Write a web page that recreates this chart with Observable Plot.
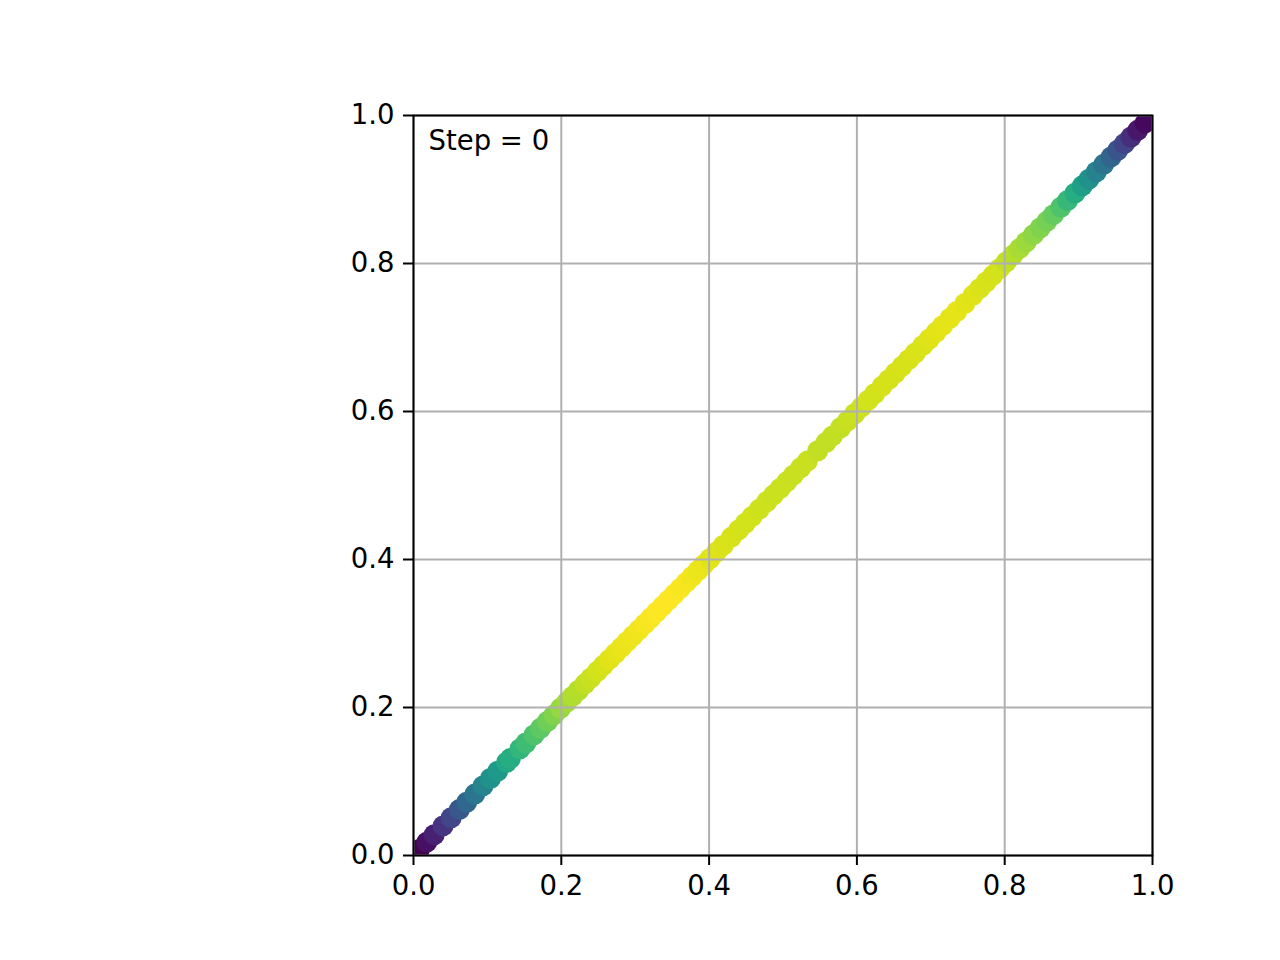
<!DOCTYPE html>
<html>
<head>
<meta charset="utf-8">
<script src="https://cdn.jsdelivr.net/npm/d3@7"></script>
<script src="https://cdn.jsdelivr.net/npm/@observablehq/plot@0.6"></script>
<style>
  html, body { margin: 0; padding: 0; background: white; }
</style>
</head>
<body>
<div id="chart"></div>
<script>
// Point positions along the diagonal (x = y)
const xs = [
  0.008, 0.018, 0.028, 0.040, 0.051, 0.062, 0.072, 0.083, 0.094,
  0.104, 0.114, 0.126, 0.131, 0.144, 0.152, 0.163, 0.172, 0.181, 0.190, 0.199,
  0.207, 0.215, 0.223, 0.232, 0.240, 0.249, 0.257, 0.265, 0.273, 0.281, 0.289, 0.297,
  0.305, 0.313, 0.321, 0.329, 0.337, 0.345, 0.353, 0.361, 0.369, 0.377, 0.385, 0.393,
  0.401, 0.410, 0.419, 0.430, 0.440, 0.449, 0.458, 0.468, 0.478, 0.487, 0.496,
  0.505, 0.514, 0.524, 0.533, 0.547, 0.558, 0.567, 0.578, 0.587, 0.597,
  0.606, 0.615, 0.624, 0.634, 0.643, 0.652, 0.661, 0.670, 0.679, 0.689, 0.698,
  0.707, 0.716, 0.726, 0.735, 0.746, 0.757, 0.766, 0.775, 0.784, 0.793,
  0.802, 0.811, 0.820, 0.829, 0.839, 0.848, 0.857, 0.866, 0.876, 0.885, 0.895,
  0.905, 0.914, 0.924, 0.934, 0.944, 0.953, 0.962, 0.971, 0.980, 0.990
];
const ys = xs.slice();
// Colour value (density, normalised 0..1) for each point
const density = [
  0.00, 0.04, 0.09, 0.15, 0.21, 0.27, 0.33, 0.39, 0.45,
  0.50, 0.54, 0.60, 0.62, 0.66, 0.69, 0.72, 0.75, 0.78, 0.81, 0.84,
  0.86, 0.88, 0.89, 0.91, 0.92, 0.93, 0.94, 0.95, 0.96, 0.965, 0.97, 0.975,
  0.98, 0.985, 0.99, 0.995, 1.00, 1.00, 0.995, 0.99, 0.985, 0.98, 0.97, 0.965,
  0.955, 0.95, 0.945, 0.94, 0.935, 0.93, 0.93, 0.925, 0.925, 0.92, 0.92,
  0.92, 0.915, 0.915, 0.915, 0.91, 0.91, 0.91, 0.91, 0.915, 0.92,
  0.925, 0.93, 0.93, 0.935, 0.935, 0.935, 0.94, 0.94, 0.945, 0.945, 0.95,
  0.955, 0.96, 0.96, 0.96, 0.955, 0.95, 0.945, 0.94, 0.935, 0.93,
  0.91, 0.89, 0.87, 0.85, 0.83, 0.81, 0.79, 0.76, 0.72, 0.67, 0.62,
  0.56, 0.50, 0.44, 0.38, 0.32, 0.26, 0.20, 0.13, 0.06, 0.02
];
const tickValues = [0, 0.2, 0.4, 0.6, 0.8, 1.0];
const annotation = ["Step = 0"];

const points = xs.map((x, i) => ({x, y: ys[i], c: density[i]}));

const chart = Plot.plot({
  width: 1280,
  height: 960,
  marginLeft: 413,
  marginRight: 128,
  marginTop: 115,
  marginBottom: 105,
  style: {fontFamily: "DejaVu Sans", fontSize: "27.5px", background: "white", color: "black"},
  x: {domain: [0, 1]},
  y: {domain: [0, 1]},
  color: {type: "linear", scheme: "viridis", domain: [0, 1]},
  marks: [
    Plot.dot(points, {x: "x", y: "y", fill: "c", r: 10.5, stroke: null, clip: "frame"}),
    Plot.gridX(tickValues, {stroke: "#b0b0b0", strokeOpacity: 1, strokeWidth: 2}),
    Plot.gridY(tickValues, {stroke: "#b0b0b0", strokeOpacity: 1, strokeWidth: 2}),
    Plot.frame({stroke: "black", strokeWidth: 2}),
    Plot.axisX({ticks: tickValues, tickFormat: d3.format(".1f"), tickSize: 10, tickPadding: 10, strokeWidth: 2, label: null, fill: "black"}),
    Plot.axisY({ticks: tickValues, tickFormat: d3.format(".1f"), tickSize: 10, tickPadding: 9, strokeWidth: 2, label: null, fill: "black"}),
    Plot.text(annotation, {frameAnchor: "top-left", dx: 15, dy: 15, lineAnchor: "top", textAnchor: "start", fontSize: 27.5, fill: "black"})
  ]
});
document.getElementById("chart").appendChild(chart);
</script>
</body>
</html>
